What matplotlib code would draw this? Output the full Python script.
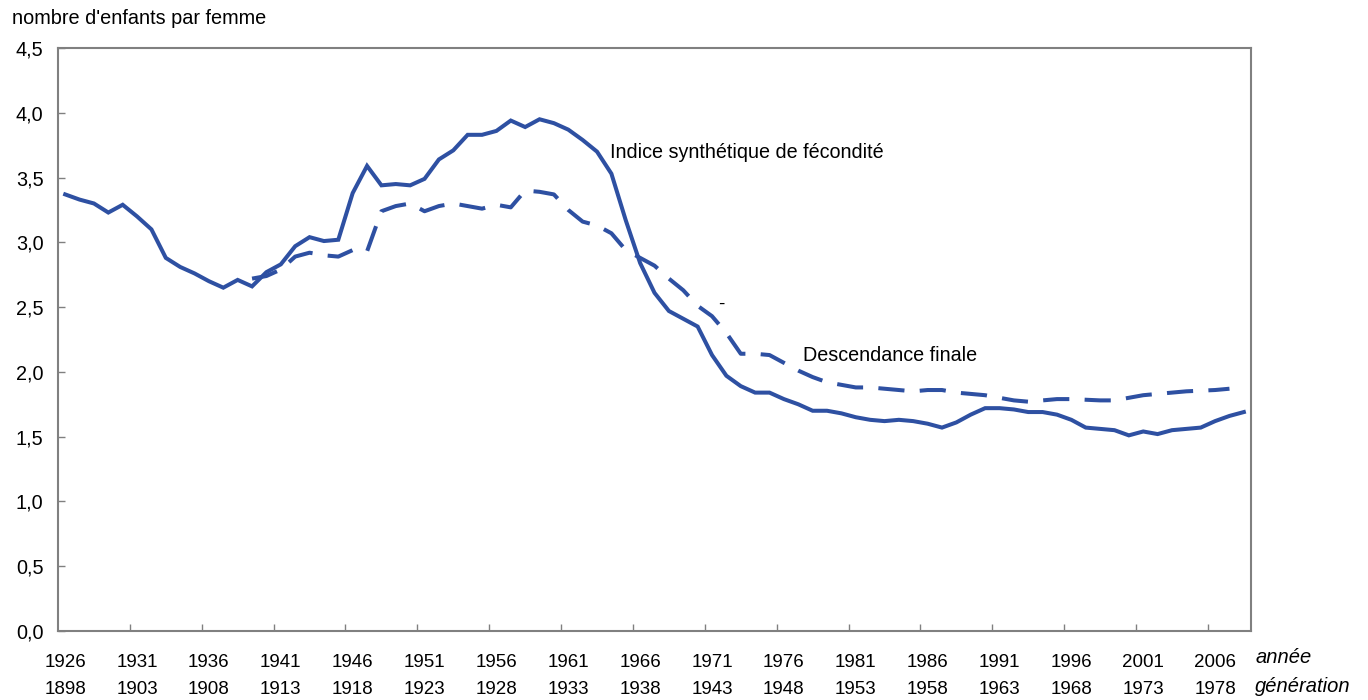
import numpy as np
import matplotlib
matplotlib.use("Agg")
import matplotlib.pyplot as plt

plt.rcParams['font.family'] = ['Liberation Sans', 'DejaVu Sans']

# years of observation (categories)
annees = np.arange(1926, 2009)
# indice synthetique de fecondite, 1926-2008
isf = [3.37, 3.33, 3.30, 3.23, 3.29, 3.20, 3.10, 2.88, 2.81, 2.76,
       2.70, 2.65, 2.71, 2.66, 2.77, 2.83, 2.97, 3.04, 3.01, 3.02,
       3.38, 3.59, 3.44, 3.45, 3.44, 3.49, 3.64, 3.71, 3.83, 3.83,
       3.86, 3.94, 3.89, 3.95, 3.92, 3.87, 3.79, 3.70, 3.53, 3.17,
       2.84, 2.61, 2.47, 2.41, 2.35, 2.13, 1.97, 1.89, 1.84, 1.84,
       1.79, 1.75, 1.70, 1.70, 1.68, 1.65, 1.63, 1.62, 1.63, 1.62,
       1.60, 1.57, 1.61, 1.67, 1.72, 1.72, 1.71, 1.69, 1.69, 1.67,
       1.63, 1.57, 1.56, 1.55, 1.51, 1.54, 1.52, 1.55, 1.56, 1.57,
       1.62, 1.66, 1.69]

# descendance finale, plotted at year = generation + 28 (1939-2007)
annees_df = np.arange(1939, 2008)
desc_finale = [2.72, 2.74, 2.79, 2.89, 2.92, 2.90, 2.89, 2.94, 2.93, 3.24,
               3.28, 3.30, 3.24, 3.28, 3.30, 3.28, 3.26, 3.29, 3.27, 3.40,
               3.39, 3.37, 3.25, 3.16, 3.13, 3.07, 2.94, 2.88, 2.82, 2.72,
               2.63, 2.51, 2.43, 2.30, 2.14, 2.14, 2.13, 2.07, 2.01, 1.96,
               1.92, 1.90, 1.88, 1.88, 1.87, 1.86, 1.85, 1.86, 1.86, 1.84,
               1.83, 1.82, 1.80, 1.78, 1.77, 1.78, 1.79, 1.79, 1.785, 1.78,
               1.78, 1.80, 1.82, 1.83, 1.84, 1.85, 1.855, 1.86, 1.87]

label_annees = list(range(1926, 2007, 5))
label_generations = [a - 28 for a in label_annees]
y_ticks = [0.0, 0.5, 1.0, 1.5, 2.0, 2.5, 3.0, 3.5, 4.0, 4.5]

bleu = '#2E50A2'
gris = '#808080'
fs = 13.5
fs_txt = 14.2

fig = plt.figure(figsize=(13.68, 7.0), dpi=100)
ax = fig.add_axes([0.0424, 0.0986, 0.8721, 0.8328])

ax.plot(annees, isf, color=bleu, lw=2.9, solid_joinstyle='miter')
ax.plot(annees_df, desc_finale, color=bleu, lw=2.9,
        linestyle=(0, (6.5, 3.8)), dash_capstyle='butt')

ax.set_xlim(1925.5, 2008.5)
ax.set_ylim(0, 4.5)

# major ticks between categories, labels centred on categories
ax.set_xticks(np.arange(1930.5, 2008, 5))
ax.set_xticklabels([])
ax.set_xticks(label_annees, minor=True)
ax.set_xticklabels(['%d\n%d' % (a, g) for a, g in zip(label_annees, label_generations)],
                   minor=True, fontsize=fs, linespacing=1.8)
ax.tick_params(axis='x', which='major', direction='in', length=5, color=gris, width=1)
ax.tick_params(axis='x', which='minor', length=0, pad=16.5)

ax.set_yticks(y_ticks)
ax.set_yticklabels([('%.1f' % v).replace('.', ',') for v in y_ticks], fontsize=14.3)
ax.tick_params(axis='y', direction='in', length=5, color=gris, width=1, pad=10.5)

for s in ax.spines.values():
    s.set_color(gris)
    s.set_linewidth(1.5)

ax.text(1963.9, 3.69, 'Indice synthétique de fécondité', fontsize=fs_txt, va='center', ha='left')
ax.text(1977.3, 2.13, 'Descendance finale', fontsize=fs_txt, va='center', ha='left')
ax.text(1971.4, 2.52, '-', fontsize=fs, va='center', ha='left')

fig.text(12 / 1368, 1 - 18 / 700, "nombre d'enfants par femme", fontsize=14.3, va='center', ha='left')
fig.text(1256 / 1368, 1 - 663 / 700, 'année', fontsize=14.5, style='italic', va='baseline', ha='left')
fig.text(1255 / 1368, 1 - 692 / 700, 'génération', fontsize=14.5, style='italic', va='baseline', ha='left')

fig.savefig('out.png', dpi=100)
